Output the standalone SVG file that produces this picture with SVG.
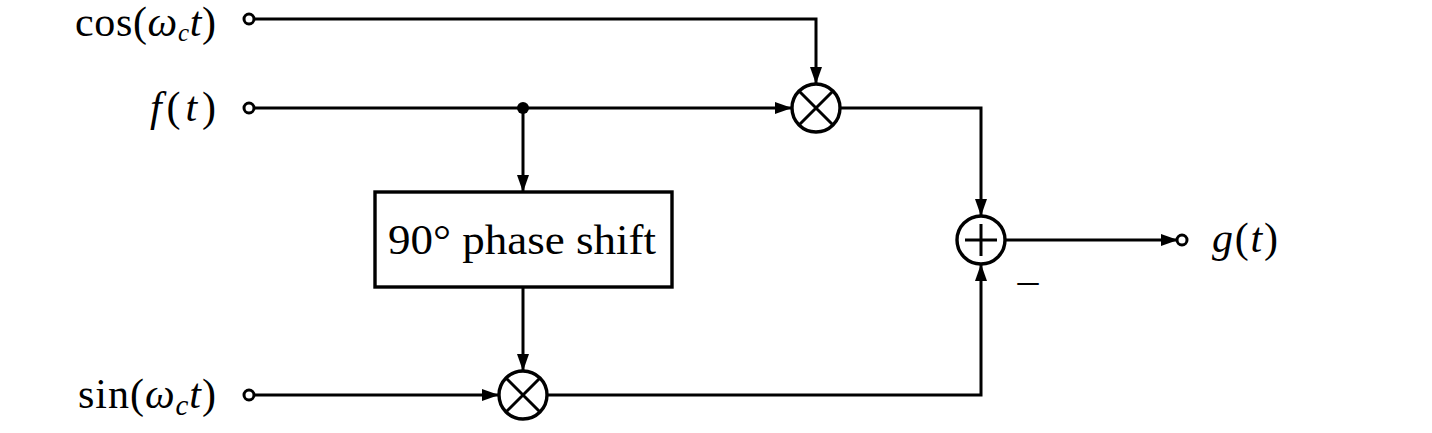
<svg xmlns="http://www.w3.org/2000/svg" width="1432" height="433" viewBox="0 0 1432 433">
<style>
.w{fill:none;stroke:#000;stroke-width:3}
.n{fill:#fff;stroke:#000;stroke-width:3.4}
.t{font-family:"Liberation Serif","DejaVu Serif",serif;font-size:42px;fill:#000}
.i{font-style:italic}
.term{fill:#fff;stroke:#000;stroke-width:3}
</style>
<defs>
<marker id="a" markerWidth="17" markerHeight="12" refX="16" refY="6" orient="auto" markerUnits="userSpaceOnUse">
<path d="M0,0 L17,6 L0,12 z" fill="#000"/>
</marker>
</defs>
<rect width="1432" height="433" fill="#fff"/>
<g id="connectors">
<path class="w" d="M254,19 H816 V83" marker-end="url(#a)"/>
<path class="w" d="M254,108 H791" marker-end="url(#a)"/>
<path class="w" d="M523,108 V191" marker-end="url(#a)"/>
<path class="w" d="M523,287 V370" marker-end="url(#a)"/>
<path class="w" d="M254,395 H498" marker-end="url(#a)"/>
<path class="w" d="M840,108 H981 V215" marker-end="url(#a)"/>
<path class="w" d="M547,395 H981 V265" marker-end="url(#a)"/>
<path class="w" d="M1005,240 H1177" marker-end="url(#a)"/>
<circle cx="523" cy="108" r="6" fill="#000"/>
</g>
<g id="in-cos">
<circle class="term" cx="249" cy="19" r="5"/>
<text class="t" x="216" y="36" font-size="36" text-anchor="end" textLength="141">cos(<tspan class="i">ω</tspan><tspan class="i" font-size="25" dy="5">c</tspan><tspan class="i" dy="-5">t</tspan>)</text>
</g>
<g id="in-f">
<circle class="term" cx="249" cy="108" r="5"/>
<text class="t" x="216" y="121" text-anchor="end" textLength="66"><tspan class="i">f</tspan>(<tspan class="i">t</tspan>)</text>
</g>
<g id="in-sin">
<circle class="term" cx="249" cy="395" r="5"/>
<text class="t" x="216" y="408" text-anchor="end" textLength="138">sin(<tspan class="i">ω</tspan><tspan class="i" font-size="29" dy="7">c</tspan><tspan class="i" dy="-7">t</tspan>)</text>
</g>
<g id="phase-shift">
<rect class="n" x="375" y="192" width="297" height="95"/>
<text class="t" x="388" y="254" textLength="268" lengthAdjust="spacingAndGlyphs">90° phase shift</text>
</g>
<g id="mult-top">
<circle class="n" cx="816" cy="108" r="24"/>
<path class="w" stroke-width="3.4" d="M799,91 L833,125 M833,91 L799,125"/>
</g>
<g id="mult-bottom">
<circle class="n" cx="523" cy="395" r="24"/>
<path class="w" stroke-width="3.4" d="M506,378 L540,412 M540,378 L506,412"/>
</g>
<g id="sum">
<circle class="n" cx="981" cy="240" r="24"/>
<path class="w" stroke-width="3.6" d="M965,240 H997 M981,224 V256"/>
<text class="t" x="1015" y="298" textLength="26" lengthAdjust="spacingAndGlyphs">−</text>
</g>
<g id="out-g">
<circle class="term" cx="1182" cy="240" r="5"/>
<text class="t" x="1212" y="252" textLength="66"><tspan class="i">g</tspan>(<tspan class="i">t</tspan>)</text>
</g>
</svg>
